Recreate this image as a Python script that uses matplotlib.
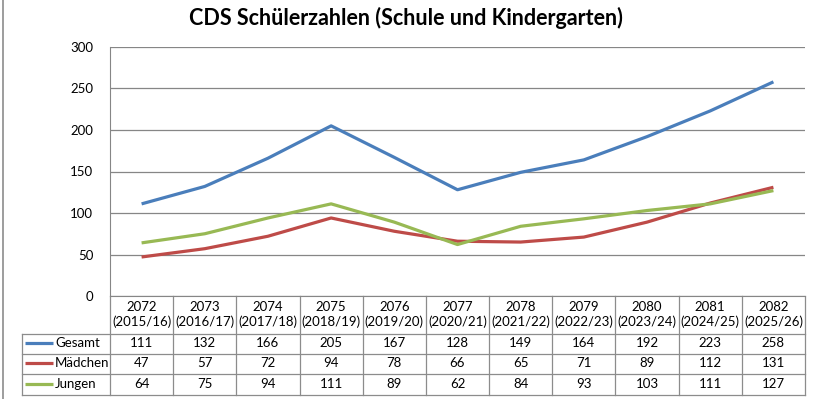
import numpy as np
import matplotlib.pyplot as plt
from matplotlib.transforms import blended_transform_factory

plt.rcParams['font.family'] = ['Lato', 'DejaVu Sans']

years_np = ['2072', '2073', '2074', '2075', '2076', '2077', '2078', '2079', '2080', '2081', '2082']
years_ad = ['2015/16', '2016/17', '2017/18', '2018/19', '2019/20', '2020/21',
            '2021/22', '2022/23', '2023/24', '2024/25', '2025/26']
gesamt = [111, 132, 166, 205, 167, 128, 149, 164, 192, 223, 258]
maedchen = [47, 57, 72, 94, 78, 66, 65, 71, 89, 112, 131]
jungen = [64, 75, 94, 111, 89, 62, 84, 93, 103, 111, 127]

series_names = ['Gesamt', 'Mädchen', 'Jungen']
series_vals = [gesamt, maedchen, jungen]
colors = ['#4A7EBB', '#BE4B48', '#98B954']

W, H = 815, 399
L, R, T, B = 110, 805, 47, 296   # plot area in pixels

fig = plt.figure(figsize=(W / 100, H / 100), dpi=100)
ax = fig.add_axes([L / W, 1 - B / H, (R - L) / W, (B - T) / H])

xs = np.arange(len(years_np))
for vals, c in zip(series_vals, colors):
    ax.plot(xs, vals, color=c, lw=2.3, solid_joinstyle='round', solid_capstyle='butt')

ax.set_xlim(-0.5, len(years_np) - 0.5)
ax.set_ylim(0, 300)
ax.set_yticks(np.arange(0, 301, 50))
ax.yaxis.grid(True, color='#868686', lw=0.9)
ax.set_axisbelow(True)
ax.tick_params(axis='y', length=0, pad=12, labelsize=9.5, labelcolor='#000000')
ax.tick_params(axis='x', length=0, labelbottom=False)
for s in ['top', 'right']:
    ax.spines[s].set_visible(False)
ax.spines['left'].set_color('#868686')
ax.spines['bottom'].set_color('#868686')

# data table below the plot
tr = blended_transform_factory(ax.transData, ax.transAxes)
tra = ax.transAxes
ph = B - T


def ay(py):
    return (B - py) / ph


def ax_x(px):
    return (px - L) / (R - L)


rows = [296, 334, 354, 374, 395]
lc = '#8c8c8c'
kw = dict(color=lc, lw=0.9, clip_on=False)

# horizontal lines
for ry in rows[1:]:
    ax.plot([ax_x(22), 1], [ay(ry)] * 2, transform=tra, **kw)
# vertical lines
edges = np.arange(len(years_np) + 1) - 0.5
for e in edges:
    ax.plot([e, e], [ay(rows[0]), ay(rows[-1])], transform=tr, **kw)
ax.plot([ax_x(22)] * 2, [ay(rows[1]), ay(rows[-1])], transform=tra, **kw)

fs = 9.5
for i, (a, b) in enumerate(zip(years_np, years_ad)):
    ax.text(i, ay(307), a, transform=tr, ha='center', va='center', fontsize=fs, clip_on=False)
    ax.text(i, ay(322), f'({b})', transform=tr, ha='center', va='center', fontsize=fs, clip_on=False)

for r, (name, vals, c) in enumerate(zip(series_names, series_vals, colors)):
    yc = ay((rows[r + 1] + rows[r + 2]) / 2 - 1)
    for i, v in enumerate(vals):
        ax.text(i, yc, str(v), transform=tr, ha='center', va='center', fontsize=fs, clip_on=False)
    ax.plot([ax_x(25), ax_x(53)], [yc, yc], transform=tra, color=c, lw=2.3, clip_on=False,
            solid_capstyle='butt')
    ax.text(ax_x(55), yc, name, transform=tra, ha='left', va='center', fontsize=fs, clip_on=False)

fig.text(406 / W, 1 - 18 / H, 'CDS Schülerzahlen (Schule und Kindergarten)',
         ha='center', va='center', fontsize=15.5, fontweight='bold')

# chart frame edge on the left
fig.add_artist(plt.Line2D([2.5 / W, 2.5 / W], [0, 1], color='#8c8c8c', lw=1.2))

fig.savefig('out.png', dpi=100)
